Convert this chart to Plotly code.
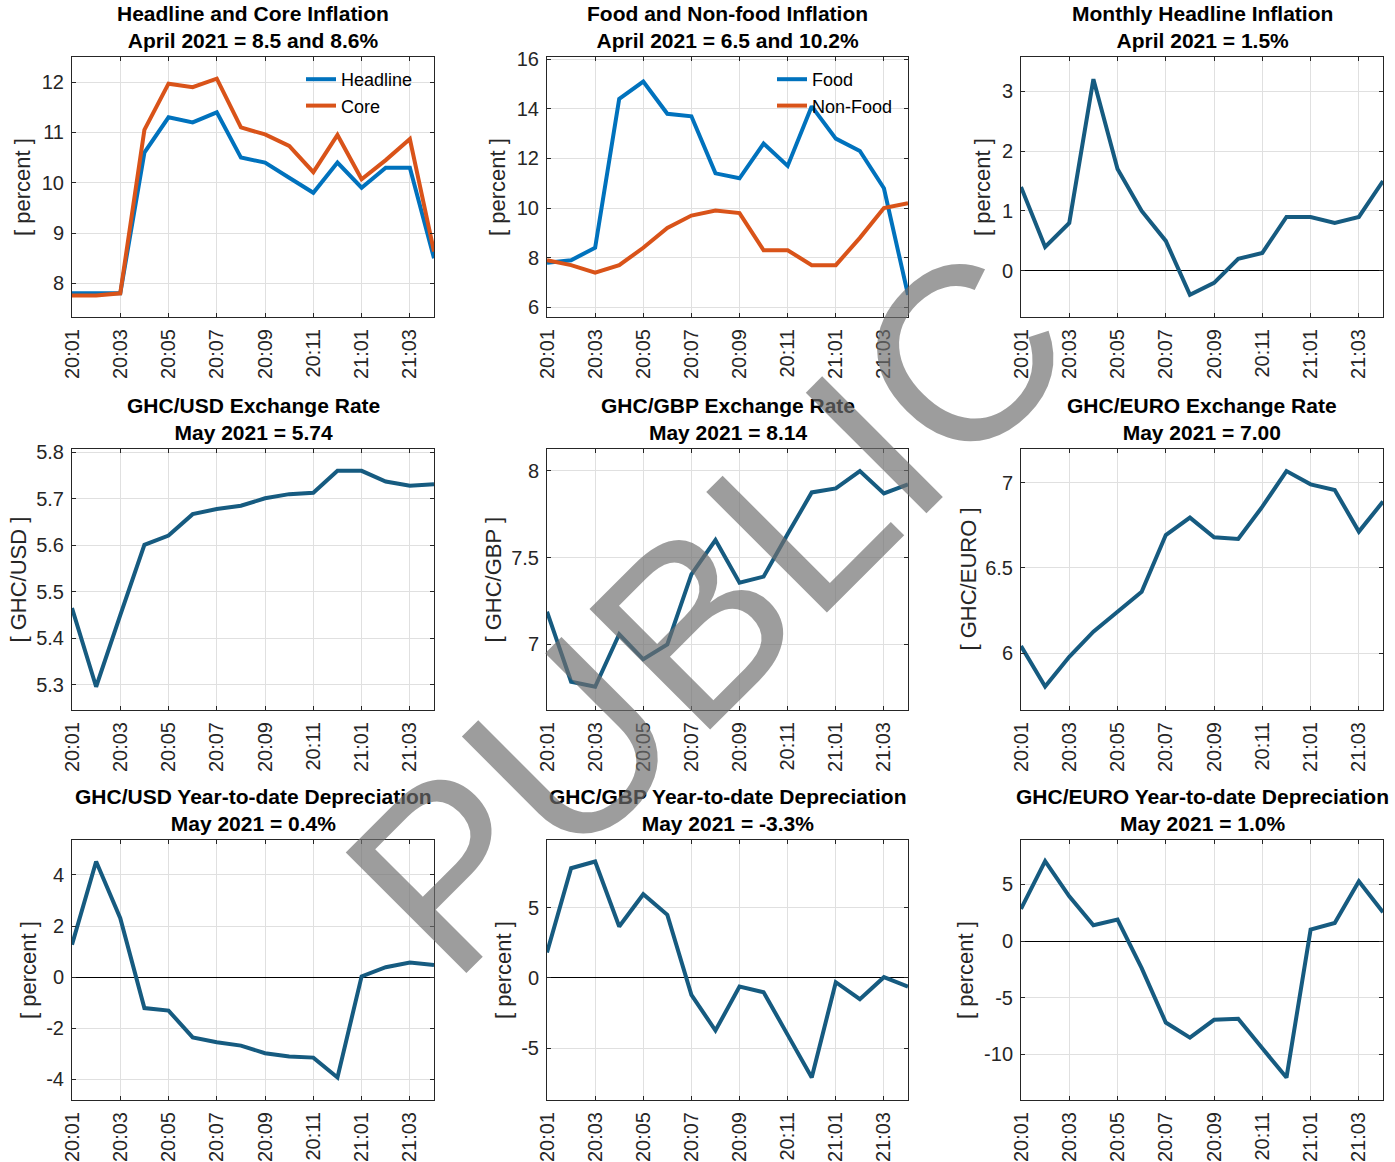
import plotly.graph_objects as go

# ---------------- data ----------------
months = ["20:01", "20:02", "20:03", "20:04", "20:05", "20:06", "20:07", "20:08",
          "20:09", "20:10", "20:11", "20:12", "21:01", "21:02", "21:03", "21:04"]
tick_months = months[::2]

headline = [7.8, 7.8, 7.8, 10.6, 11.3, 11.2, 11.4, 10.5, 10.4, 10.1, 9.8, 10.4, 9.9, 10.3, 10.3, 8.5]
core = [7.76, 7.76, 7.8, 11.05, 11.97, 11.9, 12.07, 11.1, 10.96, 10.73, 10.21, 10.95, 10.07, 10.45, 10.87, 8.63]

food = [7.8, 7.9, 8.4, 14.4, 15.1, 13.8, 13.7, 11.4, 11.2, 12.6, 11.7, 14.1, 12.8, 12.3, 10.8, 6.5]
non_food = [7.9, 7.7, 7.4, 7.7, 8.4, 9.2, 9.7, 9.9, 9.8, 8.3, 8.3, 7.7, 7.7, 8.8, 10.0, 10.2]

monthly_headline = [1.4, 0.4, 0.8, 3.2, 1.7, 1.0, 0.5, -0.4, -0.2, 0.2, 0.3, 0.9, 0.9, 0.8, 0.9, 1.5]

ghc_usd = [5.465, 5.296, 5.45, 5.601, 5.621, 5.667, 5.678, 5.685, 5.701, 5.71, 5.713, 5.76, 5.76, 5.737, 5.728, 5.731]
ghc_gbp = [7.188, 6.785, 6.756, 7.058, 6.914, 7.0, 7.403, 7.601, 7.355, 7.39, 7.635, 7.875, 7.898, 7.998, 7.869, 7.921]
ghc_eur = [6.043, 5.805, 5.98, 6.127, 6.244, 6.361, 6.693, 6.795, 6.68, 6.67, 6.859, 7.068, 6.99, 6.957, 6.713, 6.889]

usd_ytd = [1.27, 4.53, 2.31, -1.21, -1.31, -2.36, -2.55, -2.68, -2.98, -3.11, -3.15, -3.93, 0.03, 0.39, 0.57, 0.48]
gbp_ytd = [1.81, 7.81, 8.29, 3.66, 5.96, 4.49, -1.21, -3.75, -0.62, -1.02, -4.06, -7.1, -0.31, -1.52, 0.05, -0.62]
eur_ytd = [2.83, 7.05, 3.95, 1.39, 1.89, -2.39, -7.2, -8.53, -6.96, -6.87, -9.47, -12.06, 1.0, 1.59, 5.28, 2.54]

titles = [
    ("Headline and Core Inflation", "April 2021 = 8.5 and 8.6%"),
    ("Food and Non-food Inflation", "April 2021 = 6.5 and 10.2%"),
    ("Monthly Headline Inflation", "April 2021 = 1.5%"),
    ("GHC/USD Exchange Rate", "May 2021 = 5.74"),
    ("GHC/GBP Exchange Rate", "May 2021 = 8.14"),
    ("GHC/EURO Exchange Rate", "May 2021 = 7.00"),
    ("GHC/USD Year-to-date Depreciation", "May 2021 = 0.4%"),
    ("GHC/GBP Year-to-date Depreciation", "May 2021 = -3.3%"),
    ("GHC/EURO Year-to-date Depreciation", "May 2021 = 1.0%"),
]
ylabels = ["[ percent ]", "[ percent ]", "[ percent ]",
           "[ GHC/USD ]", "[ GHC/GBP ]", "[ GHC/EURO ]",
           "[ percent ]", "[ percent ]", "[ percent ]"]

yticks = [
    [8, 9, 10, 11, 12],
    [6, 8, 10, 12, 14, 16],
    [0, 1, 2, 3],
    [5.3, 5.4, 5.5, 5.6, 5.7, 5.8],
    [7, 7.5, 8],
    [6, 6.5, 7],
    [-4, -2, 0, 2, 4],
    [-5, 0, 5],
    [-10, -5, 0, 5],
]
ytick_text = [
    ["8", "9", "10", "11", "12"],
    ["6", "8", "10", "12", "14", "16"],
    ["0", "1", "2", "3"],
    ["5.3", "5.4", "5.5", "5.6", "5.7", "5.8"],
    ["7", "7.5", "8"],
    ["6", "6.5", "7"],
    ["-4", "-2", "0", "2", "4"],
    ["-5", "0", "5"],
    ["-10", "-5", "0", "5"],
]
yranges = [
    [7.33, 12.5], [5.61, 16.09], [-0.77, 3.57],
    [5.246, 5.807], [6.622, 8.125], [5.668, 7.197],
    [-4.81, 5.37], [-8.7, 9.82], [-14.04, 8.92],
]

BLUE = "#0072BD"
ORANGE = "#D95319"
TEAL = "#165B80"

series = [
    [("Headline", headline, BLUE), ("Core", core, ORANGE)],
    [("Food", food, BLUE), ("Non-Food", non_food, ORANGE)],
    [(None, monthly_headline, TEAL)],
    [(None, ghc_usd, TEAL)],
    [(None, ghc_gbp, TEAL)],
    [(None, ghc_eur, TEAL)],
    [(None, usd_ytd, TEAL)],
    [(None, gbp_ytd, TEAL)],
    [(None, eur_ytd, TEAL)],
]
zero_line = [False, False, True, False, False, False, True, True, True]

# ---------------- layout geometry ----------------
W, H = 1395, 1162
col_px = [(72, 434), (547, 908), (1021, 1383)]
row_px = [(57, 317), (449, 710), (840, 1100)]
ylabel_x = [23, 498, 983, 18, 493, 968, 28, 503, 965]

FONT = "Liberation Sans, Arial, Helvetica, sans-serif"
AXC = "#262626"
GRID = "#e0e0e0"

fig = go.Figure()
annotations = []
layout = {}

for i in range(9):
    r, c = divmod(i, 3)
    sfx = "" if i == 0 else str(i + 1)
    x0, x1 = col_px[c]
    y0, y1 = row_px[r]
    xd = [x0 / W, x1 / W]
    yd = [1 - y1 / H, 1 - y0 / H]

    layout["xaxis" + sfx] = dict(
        domain=xd, anchor="y" + sfx, type="category", range=[0, 15],
        tickmode="array", tickvals=tick_months, ticktext=tick_months,
        tickangle=-90, ticks="inside", ticklen=4, tickcolor=AXC,
        showline=True, linecolor=AXC, linewidth=1, mirror="ticks",
        showgrid=True, gridcolor=GRID, gridwidth=1,
        tickfont=dict(family=FONT, size=20, color=AXC),
        ticklabelstandoff=3,
        zeroline=False, fixedrange=True, automargin=False,
    )
    layout["yaxis" + sfx] = dict(
        domain=yd, anchor="x" + sfx, range=yranges[i],
        tickmode="array", tickvals=yticks[i], ticktext=ytick_text[i],
        ticks="inside", ticklen=4, tickcolor=AXC,
        showline=True, linecolor=AXC, linewidth=1, mirror="ticks",
        showgrid=True, gridcolor=GRID, gridwidth=1,
        tickfont=dict(family=FONT, size=20, color=AXC),
        ticklabelstandoff=3,
        zeroline=zero_line[i], zerolinecolor="black", zerolinewidth=1,
        fixedrange=True, automargin=False,
    )

    for name, vals, color in series[i]:
        tr = dict(x=months, y=vals, mode="lines",
                  line=dict(color=color, width=4),
                  xaxis="x" + sfx, yaxis="y" + sfx,
                  hoverinfo="skip")
        if name is not None:
            tr["name"] = name
            tr["showlegend"] = True
            tr["legend"] = "legend" if i == 0 else "legend2"
        else:
            tr["showlegend"] = False
        fig.add_trace(go.Scatter(**tr))

    # title
    t1, t2 = titles[i]
    annotations.append(dict(
        text="<b>" + t1 + "</b><br><b>" + t2 + "</b>",
        x=(x0 + x1) / 2 / W, y=1 - (y0 - 3) / H, xref="paper", yref="paper",
        xanchor="center", yanchor="bottom", showarrow=False,
        font=dict(family=FONT, size=21, color="black"),
    ))
    # y label
    annotations.append(dict(
        text=ylabels[i], x=ylabel_x[i] / W, y=1 - ((y0 + y1) / 2) / H,
        xref="paper", yref="paper", xanchor="center", yanchor="middle",
        textangle=-90, showarrow=False,
        font=dict(family=FONT, size=22, color=AXC),
    ))

# watermark
annotations.append(dict(
    text="PUBLIC", x=708 / W, y=1 - 610 / H, xref="paper", yref="paper",
    xanchor="center", yanchor="middle", textangle=-45, showarrow=False,
    font=dict(family=FONT, size=248, color="rgba(110,110,110,0.68)"),
))

legend_common = dict(
    xref="paper", yref="paper", xanchor="left", yanchor="top",
    bgcolor="rgba(0,0,0,0)", borderwidth=0,
    font=dict(family=FONT, size=18, color="black"),
    tracegroupgap=0, itemwidth=30,
)

fig.update_layout(
    template="none",
    width=W, height=H,
    margin=dict(l=0, r=0, t=0, b=0, autoexpand=False),
    paper_bgcolor="white", plot_bgcolor="white",
    annotations=annotations,
    legend=dict(x=301 / W, y=1 - 61 / H, **legend_common),
    legend2=dict(x=772 / W, y=1 - 61 / H, **legend_common),
    **layout,
)

fig.write_html("out.html", config={"displayModeBar": False, "staticPlot": True},
               post_script="document.body.style.margin='0px';")
